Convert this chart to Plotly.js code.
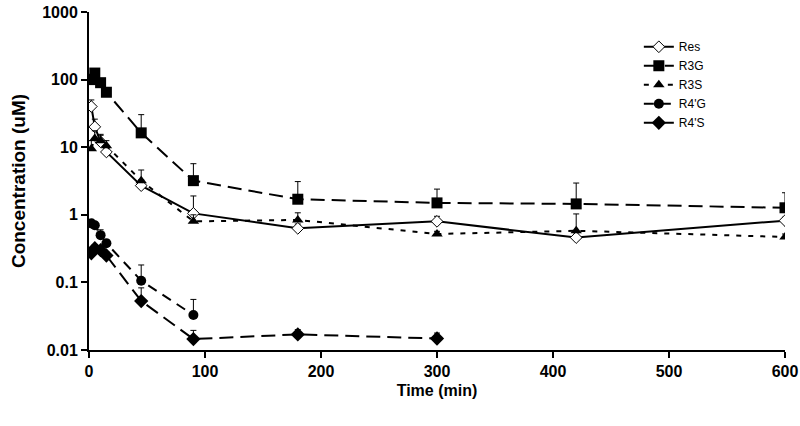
<!DOCTYPE html>
<html>
<head>
<meta charset="utf-8">
<script src="https://cdn.plot.ly/plotly-3.0.1.min.js"></script>
<style>html,body{margin:0;padding:0;background:#fff;}#chart{width:800px;height:426px;}</style>
</head>
<body>
<div id="chart"></div>
<script>
// Data
const seriesNames = ["Res", "R3G", "R3S", "R4'G", "R4'S"];

const resTime = [2, 5, 10, 15, 45, 90, 180, 300, 420, 600];
const resConc = [40, 20, 12, 8.5, 2.7, 1.05, 0.63, 0.8, 0.46, 0.82];
const resErr  = [10, 6, 3, 1.5, 0.6, 0.85, 0.1, 0.15, 0.08, 0.1];

const r3gTime = [2, 5, 10, 15, 45, 90, 180, 300, 420, 600];
const r3gConc = [100, 125, 90, 65, 16.3, 3.2, 1.7, 1.5, 1.45, 1.27];
const r3gErr  = [20, 20, 10, 8, 14, 2.5, 1.4, 0.9, 1.5, 0.85];

const r3sTime = [2, 5, 10, 15, 45, 90, 180, 300, 420, 600];
const r3sConc = [9.5, 13.5, 12.5, 10.5, 3.2, 0.8, 0.84, 0.52, 0.58, 0.47];
const r3sErr  = [3, 4, 3, 2, 1.4, 0.2, 0.23, 0.05, 0.45, 0.05];

const r4gTime = [2, 5, 10, 15, 45, 90];
const r4gConc = [0.75, 0.7, 0.5, 0.38, 0.106, 0.033];
const r4gErr  = [0.05, 0.08, 0.1, 0.05, 0.075, 0.023];

const r4sTime = [2, 5, 10, 15, 45, 90, 180, 300];
const r4sConc = [0.27, 0.32, 0.3, 0.25, 0.053, 0.0145, 0.017, 0.0148];
const r4sErr  = [0.03, 0.04, 0.04, 0.03, 0.03, 0.005, 0.003, 0.003];

const xTickVals = [0, 100, 200, 300, 400, 500, 600];
const yTickVals = [0.01, 0.1, 1, 10, 100, 1000];
const yTickText = ["0.01", "0.1", "1", "10", "100", "1000"];

function errCfg(arr) {
  return {type: 'data', symmetric: false, array: arr, arrayminus: arr.map(() => 0),
          color: '#000', thickness: 1, width: 3, visible: true};
}
function trace(name, x, y, e, dash, symbol, size, open) {
  return {
    type: 'scatter', mode: 'lines+markers', name: name, x: x, y: y,
    error_y: errCfg(e),
    line: {color: '#000', width: 2, dash: dash},
    marker: {symbol: symbol, size: size, color: open ? '#fff' : '#000',
             line: {color: '#000', width: open ? 1 : 0}}
  };
}

const data = [
  trace(seriesNames[0], resTime, resConc, resErr, 'solid', 'diamond', 9, true),
  trace(seriesNames[1], r3gTime, r3gConc, r3gErr, '14px,7px', 'square', 11, false),
  trace(seriesNames[2], r3sTime, r3sConc, r3sErr, '5px,7px', 'triangle-up', 10, false),
  trace(seriesNames[3], r4gTime, r4gConc, r4gErr, '10px,7px', 'circle', 10, false),
  trace(seriesNames[4], r4sTime, r4sConc, r4sErr, '14px,7px', 'diamond', 11, false)
];

const fam = 'Liberation Sans, Arial, sans-serif';
const tickFont = {family: fam, size: 16, color: '#000', weight: 'bold'};

const layout = {
  width: 800, height: 426,
  margin: {l: 89, r: 15, t: 12, b: 76},
  paper_bgcolor: '#fff', plot_bgcolor: '#fff',
  showlegend: true,
  legend: {x: 0.79, y: 0.94, xanchor: 'left', yanchor: 'top',
           font: {family: fam, size: 12, color: '#000'},
           bgcolor: 'rgba(0,0,0,0)', tracegroupgap: 0},
  xaxis: {
    range: [0, 600], tickvals: xTickVals, showgrid: false, zeroline: false,
    showline: true, linecolor: '#000', linewidth: 2,
    ticks: 'outside', ticklen: 6, tickwidth: 2, tickcolor: '#000',
    tickfont: tickFont,
    title: {text: 'Time (min)', font: {family: fam, size: 16, color: '#000', weight: 'bold'}, standoff: 6}
  },
  yaxis: {
    type: 'log', range: [-2, 3], tickvals: yTickVals, ticktext: yTickText,
    showgrid: false, zeroline: false,
    showline: true, linecolor: '#000', linewidth: 2,
    ticks: 'outside', ticklen: 6, tickwidth: 2, tickcolor: '#000',
    tickfont: tickFont,
    title: {text: 'Concentration (uM)', font: {family: fam, size: 19, color: '#000', weight: 'bold'}, standoff: 12}
  }
};

Plotly.newPlot('chart', data, layout, {displayModeBar: false, staticPlot: true});
</script>
</body>
</html>
